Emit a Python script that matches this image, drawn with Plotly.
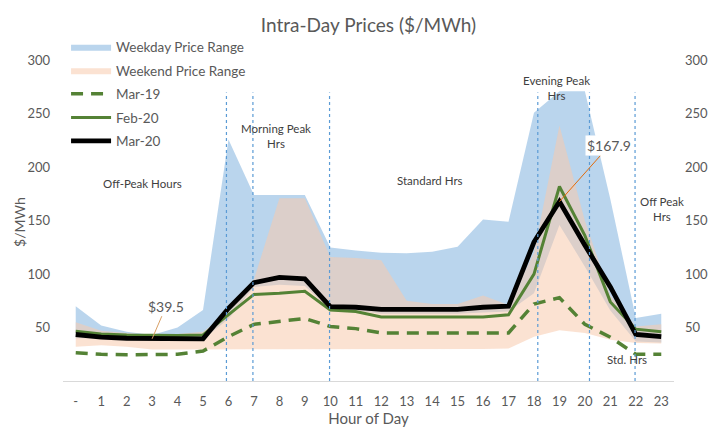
import plotly.graph_objects as go

# ---- data ----
hours = list(range(24))
hour_labels = ["-"] + [str(h) for h in range(1, 24)]

weekday_high = [70, 52, 46, 43, 50, 66.5, 226, 174, 174, 174, 125, 122, 120, 119.5, 121, 125.5,
                151, 149, 251, 271, 271, 170, 59, 63]
weekday_low = [40, 40, 40, 39, 39, 39, 58, 88, 90, 89, 67, 66, 63, 63, 63, 63,
               64, 65, 82, 146, 107, 66, 37, 36]
weekend_high = [55, 47, 45, 43, 44, 46, 64, 95, 171, 171, 116, 115, 113, 75, 72, 72,
                80, 71, 120, 239, 150, 80, 51, 53]
weekend_low = [32, 33.5, 32, 29.5, 29.5, 29.5, 29.5, 29.5, 29.5, 29.5, 30, 30, 30, 30, 30, 30,
               30, 30.5, 41.5, 47.5, 45, 38.5, 35.5, 35]

mar19 = [26.5, 25, 24.5, 24.5, 25, 28, 41.5, 53, 55.5, 58.5, 51, 49, 45, 45, 45, 45.5,
         45.5, 45, 72, 78, 53, 41, 25, 25]
feb20 = [46.5, 44, 43, 42.5, 42.5, 43, 62, 81, 82, 84, 66.5, 65, 60, 60, 60, 60,
         60, 62, 100, 182, 136, 74, 48.5, 46]
mar20 = [43.5, 41, 40, 39.5, 39.5, 39.5, 68, 92, 97, 95.5, 69.5, 69, 67, 67, 67, 67,
         69, 70, 130, 167.9, 127, 88, 43.5, 41.5]

period_bounds = [5.92, 6.96, 9.97, 18.15, 20.18, 21.97]
period_top = 270
period_labels = ["Off-Peak Hours", "Morning Peak<br>Hrs", "Standard Hrs",
                 "Evening Peak<br>Hrs", "Off Peak<br>Hrs", "Std. Hrs"]
period_label_x = [2.63, 7.87, 13.92, 18.89, 23.02, 21.64]
period_label_y = [185, 229, 188, 274.6, 161, 20.3]

# data labels: hour index of labelled point, label text position (hour, value)
label_hours = [3, 19]
label_pos_x = [3.55, 20.95]
label_pos_y = [70, 220]

y_ticks = [50, 100, 150, 200, 250, 300]

FONT = "Lato"
GREY = "#595959"

fig = go.Figure()

fig.add_trace(go.Scatter(x=hours, y=weekday_low, mode="lines", line=dict(width=0),
                         showlegend=False, hoverinfo="skip", legendgroup="wd"))
fig.add_trace(go.Scatter(x=hours, y=weekday_high, mode="lines", line=dict(width=0),
                         fill="tonexty", fillcolor="rgba(157,195,230,0.7)",
                         name="Weekday Price Range", legendgroup="wd"))
fig.add_trace(go.Scatter(x=hours, y=weekend_low, mode="lines", line=dict(width=0),
                         showlegend=False, hoverinfo="skip", legendgroup="we"))
fig.add_trace(go.Scatter(x=hours, y=weekend_high, mode="lines", line=dict(width=0),
                         fill="tonexty", fillcolor="rgba(248,203,173,0.55)",
                         name="Weekend Price Range", legendgroup="we"))
fig.add_trace(go.Scatter(x=hours, y=mar19, mode="lines", name="Mar-19", legendgroup="m19",
                         line=dict(color="#548235", width=3.5, dash="12px,8px")))
fig.add_trace(go.Scatter(x=hours, y=feb20, mode="lines", name="Feb-20", legendgroup="f20",
                         line=dict(color="#548235", width=3)))
fig.add_trace(go.Scatter(x=hours, y=mar20, mode="lines", name="Mar-20", legendgroup="m20",
                         line=dict(color="#000000", width=4.8)))
# right-hand axis carrier
fig.add_trace(go.Scatter(x=hours, y=mar20, yaxis="y2", mode="lines", line=dict(width=0),
                         opacity=0, showlegend=False, hoverinfo="skip"))

for xb in period_bounds:
    fig.add_shape(type="line", x0=xb, x1=xb, y0=0, y1=period_top, xref="x", yref="y",
                  line=dict(color="#5B9BD5", width=1.2, dash="3px,3px"), layer="above")

annotations = []
for txt, xx, yy in zip(period_labels, period_label_x, period_label_y):
    annotations.append(dict(x=xx, y=yy, xref="x", yref="y", text=txt, showarrow=False,
                            font=dict(family=FONT, size=11.5, color="#404040")))

arrow_colors = ["#D9A066", "#E46C0A"]
for h, lx, ly, ac in zip(label_hours, label_pos_x, label_pos_y, arrow_colors):
    annotations.append(dict(x=h, y=mar20[h], xref="x", yref="y", text=f"${mar20[h]:.1f}",
                            showarrow=True, axref="x", ayref="y", ax=lx, ay=ly,
                            arrowhead=0, arrowwidth=1, arrowcolor=ac,
                            xanchor="center", yanchor="middle",
                            bgcolor="white" if h == 19 else "rgba(0,0,0,0)",
                            font=dict(family=FONT, size=14, color=GREY)))

annotations.append(dict(x=-0.0704, y=0.465, xref="paper", yref="paper", text="$/MWh",
                        showarrow=False, textangle=-90, xanchor="center", yanchor="middle",
                        font=dict(family=FONT, size=14, color=GREY)))

fig.update_layout(
    width=712, height=430,
    margin=dict(l=63, r=38, t=39, b=49),
    paper_bgcolor="white", plot_bgcolor="white",
    font=dict(family=FONT, color=GREY),
    title=dict(text="Intra-Day Prices ($/MWh)", x=0.5, xref="paper", y=0.942, yref="container",
               xanchor="center", yanchor="middle",
               font=dict(family=FONT, size=19, color=GREY)),
    showlegend=True,
    legend=dict(x=0.005, y=1.022, xanchor="left", yanchor="top", bgcolor="rgba(0,0,0,0)",
                font=dict(family=FONT, size=13.5, color=GREY), tracegroupgap=3,
                itemwidth=40),
    xaxis=dict(range=[-0.5, 23.5], tickmode="array", tickvals=hours, ticktext=hour_labels,
               showgrid=False, zeroline=False, showline=True, linecolor="#D9D9D9", linewidth=1,
               ticks="", tickfont=dict(family=FONT, size=13, color=GREY), ticklabelstandoff=8,
               title=dict(text="Hour of Day", font=dict(family=FONT, size=15, color=GREY),
                          standoff=4),
               automargin=False),
    yaxis=dict(range=[0, 320], tickmode="array", tickvals=y_ticks, showgrid=False,
               zeroline=False, showline=False, ticks="",
               tickfont=dict(family=FONT, size=13, color=GREY), ticklabelstandoff=12,
               automargin=False),
    yaxis2=dict(range=[0, 320], tickmode="array", tickvals=y_ticks, overlaying="y", side="right",
                showgrid=False, zeroline=False, showline=False, ticks="",
                tickfont=dict(family=FONT, size=13, color=GREY), ticklabelstandoff=10,
                automargin=False),
    annotations=annotations,
    hovermode=False,
)

fig.write_html("out.html", config={"displayModeBar": False},
               post_script="document.body.style.margin='0px';document.body.style.overflow='hidden';")
